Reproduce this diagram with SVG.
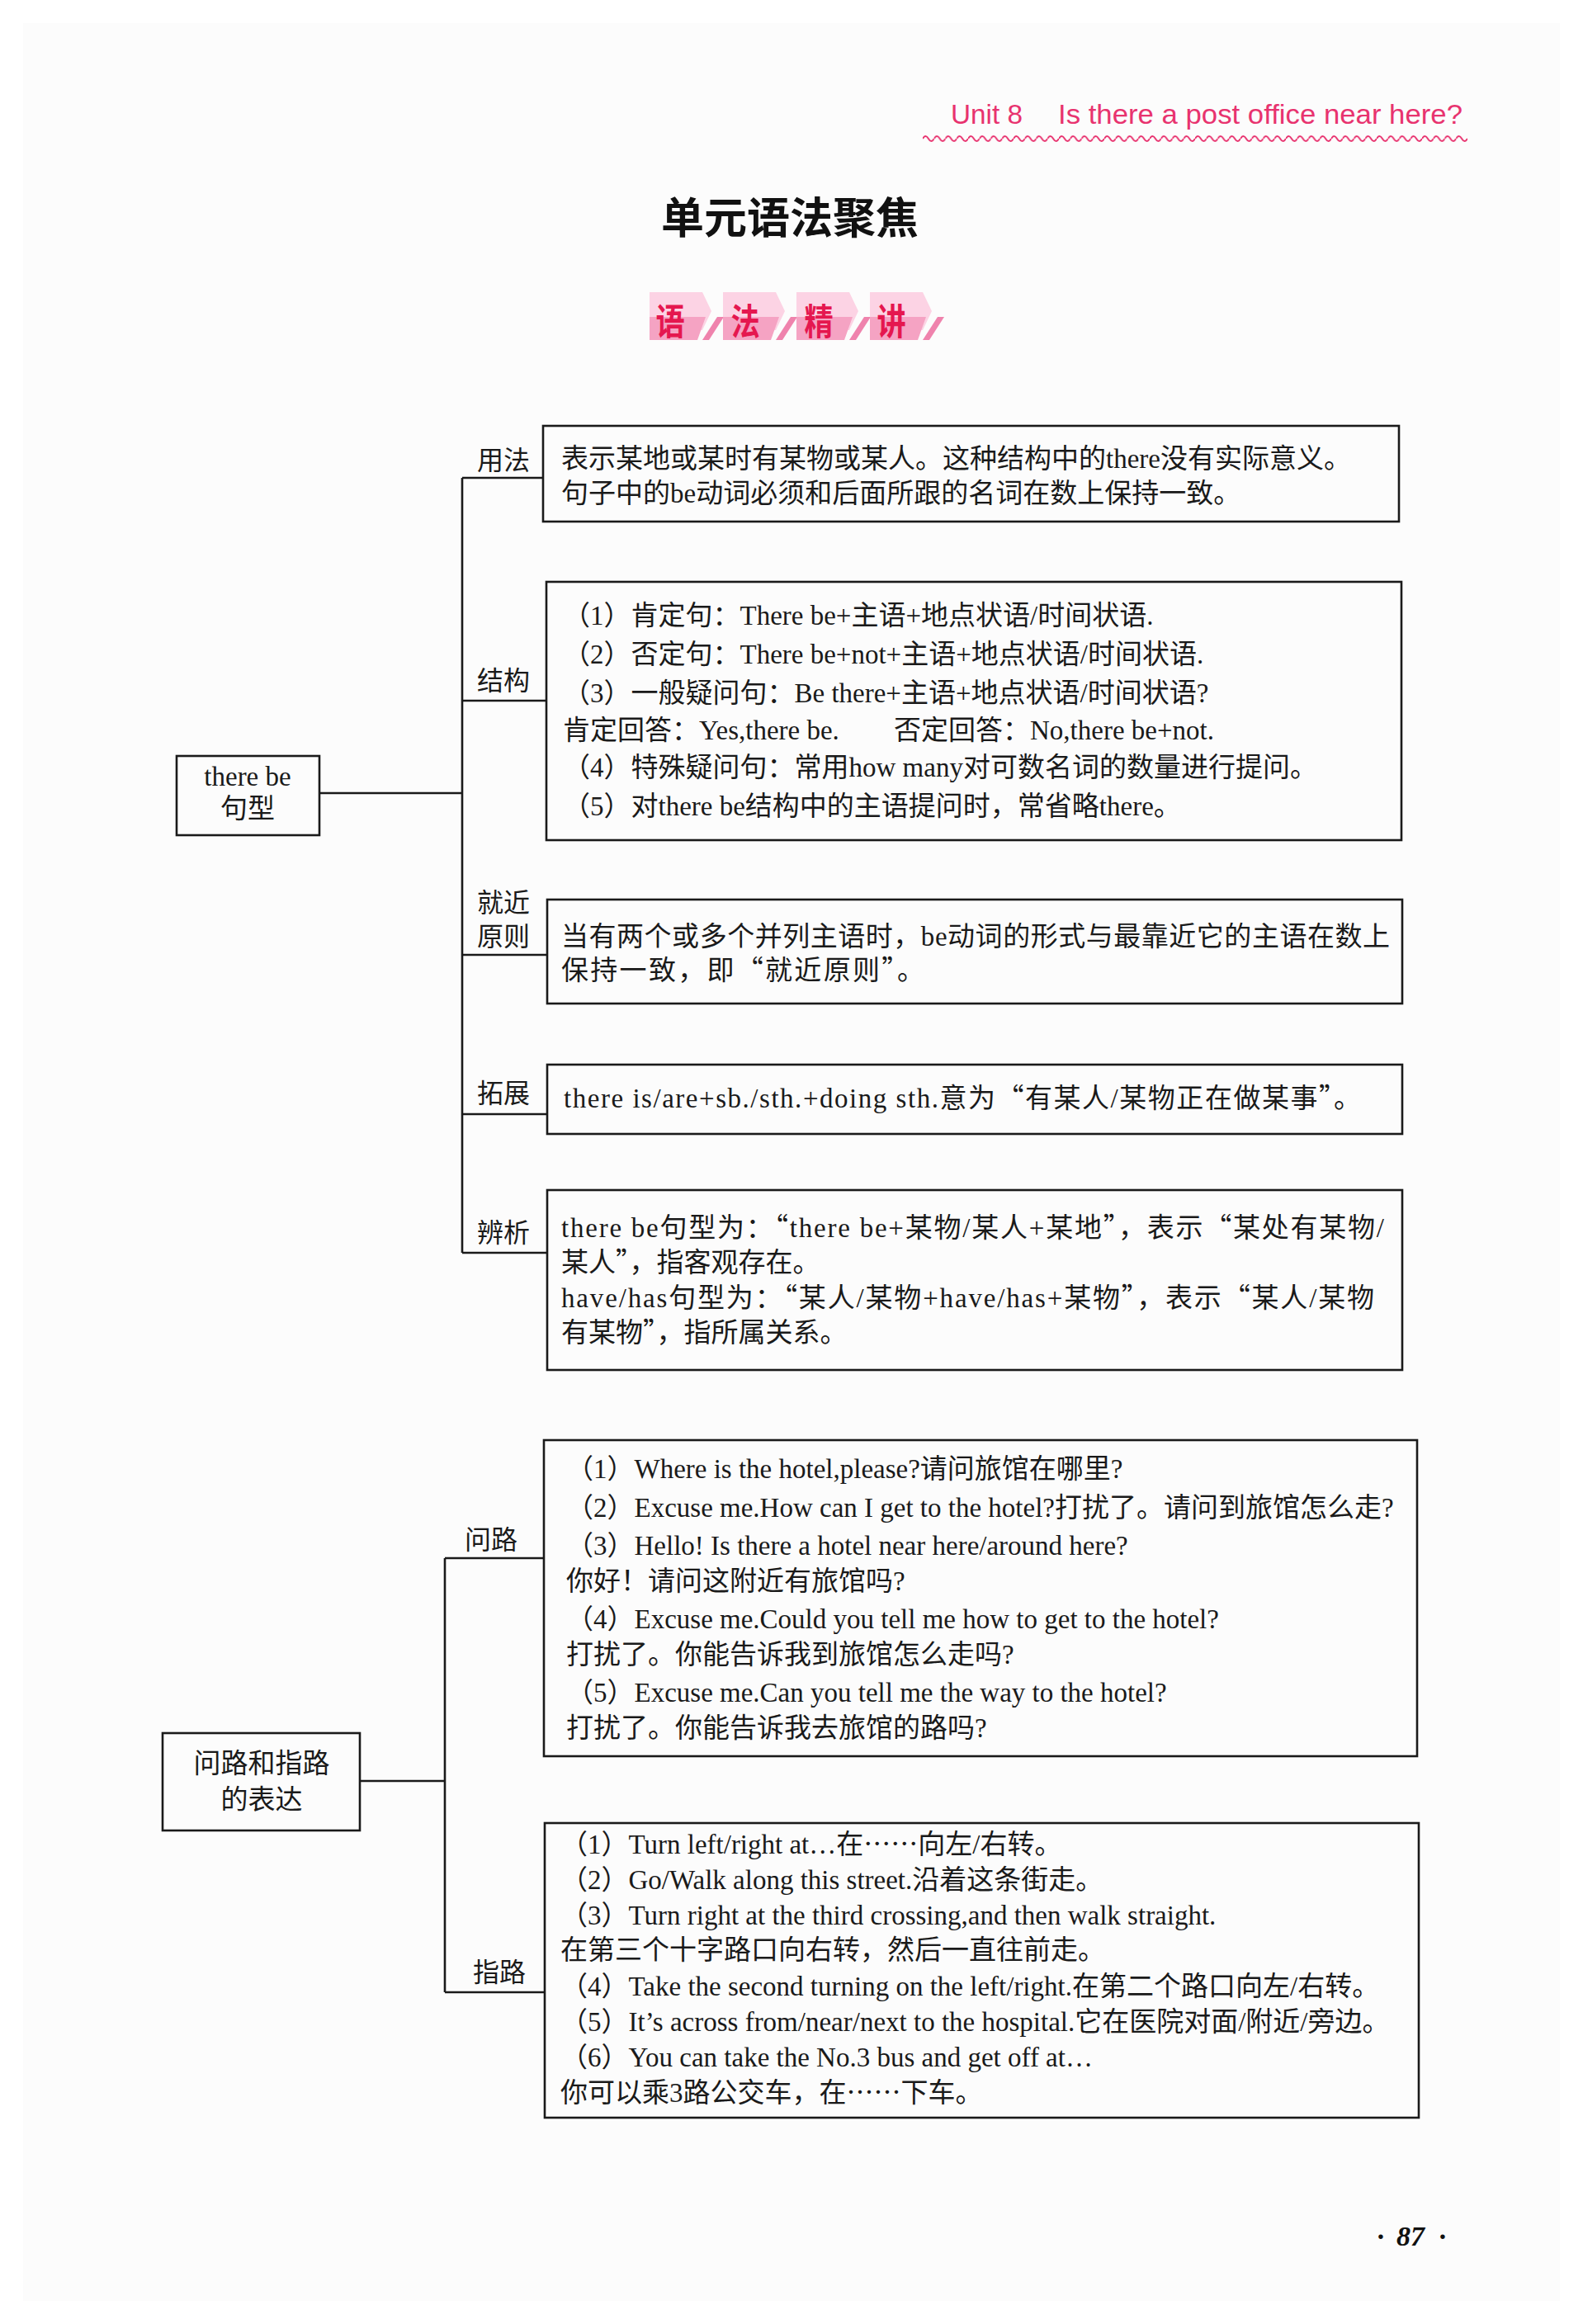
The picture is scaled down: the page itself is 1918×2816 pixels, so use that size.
<svg xmlns="http://www.w3.org/2000/svg" width="1918" height="2816" viewBox="0 0 1918 2816">
<defs>
<style>
.box{fill:none;stroke:#1a1a1a;stroke-width:2.6}
.conn{fill:none;stroke:#1a1a1a;stroke-width:2.6}
.t{font-family:"Liberation Serif","Noto Sans CJK SC",serif;font-size:33px;fill:#1a1a1a}
.lbl{font-family:"Liberation Serif","Noto Sans CJK SC",serif;font-size:32px;fill:#1a1a1a}
.zh{font-family:"Noto Sans CJK SC",sans-serif}
.hdr{font-family:"Liberation Sans","Noto Sans CJK SC",sans-serif;font-size:33px;fill:#e8336f}
.ban-l{fill:#fcd3e4}
.ban-d{fill:#f5a3c3}
.ban-s{fill:#ef83ad}
.ban-t{font-family:"Noto Sans CJK SC",sans-serif;font-weight:700;font-size:44px;fill:#e5174f}
</style>
<pattern id="wave" x="1118" y="159" width="13.75" height="18" patternUnits="userSpaceOnUse">
<path d="M0 9 Q3.44 3 6.875 9 T13.75 9" fill="none" stroke="#e8336f" stroke-width="2"/>
</pattern>
</defs>
<rect x="0" y="0" width="1918" height="2816" fill="#ffffff"/>
<rect x="28" y="28" width="1862" height="2760" fill="#fcfcfc"/>

<g id="header">
<text class="hdr" x="1152" y="150" textLength="87" lengthAdjust="spacingAndGlyphs">Unit 8</text>
<text class="hdr" x="1282" y="150" textLength="490" lengthAdjust="spacingAndGlyphs">Is there a post office near here?</text>
<rect x="1118" y="159" width="660" height="18" fill="url(#wave)"/>
</g>

<g id="title">
<text x="957" y="283" text-anchor="middle" font-family="'Noto Sans CJK SC',sans-serif" font-weight="700" font-size="52" fill="#111">单元语法聚焦</text>
</g>

<g id="banner">
<polygon class="ban-l" points="787,354 851,354 862,377 851,400 787,400"/>
<polygon class="ban-d" points="787,384 855,384 845,412 787,412"/>
<polygon class="ban-s" points="851,412 859,412 877,384 869,384"/>
<polygon class="ban-l" points="876,354 940,354 951,377 940,400 876,400"/>
<polygon class="ban-d" points="876,384 944,384 934,412 876,412"/>
<polygon class="ban-s" points="940,412 948,412 966,384 958,384"/>
<polygon class="ban-l" points="965,354 1029,354 1040,377 1029,400 965,400"/>
<polygon class="ban-d" points="965,384 1033,384 1023,412 965,412"/>
<polygon class="ban-s" points="1029,412 1037,412 1055,384 1047,384"/>
<polygon class="ban-l" points="1054,354 1118,354 1129,377 1118,400 1054,400"/>
<polygon class="ban-d" points="1054,384 1122,384 1112,412 1054,412"/>
<polygon class="ban-s" points="1118,412 1126,412 1144,384 1136,384"/>
<text class="ban-t" transform="translate(812,406) scale(0.8,1)" text-anchor="middle">语</text>
<text class="ban-t" transform="translate(903,406) scale(0.8,1)" text-anchor="middle">法</text>
<text class="ban-t" transform="translate(992,406) scale(0.8,1)" text-anchor="middle">精</text>
<text class="ban-t" transform="translate(1080,406) scale(0.8,1)" text-anchor="middle">讲</text>
</g>

<g id="connectors">
<path class="conn" d="M387 961 H560 M560 579 V1518 M560 579 H658 M560 849 H662 M560 1157 H663 M560 1350 H663 M560 1518 H663"/>
<path class="conn" d="M436 2158 H539 M539 1888 V2414 M539 1888 H659 M539 2414 H660"/>
<text class="lbl" x="578" y="569">用法</text>
<text class="lbl" x="578" y="836">结构</text>
<text class="lbl" x="578" y="1105">就近</text>
<text class="lbl" x="578" y="1146">原则</text>
<text class="lbl" x="578" y="1336">拓展</text>
<text class="lbl" x="578" y="1505">辨析</text>
<text class="lbl" x="563" y="1877">问路</text>
<text class="lbl" x="573" y="2401">指路</text>
</g>

<g id="n-therebe">
<rect class="box" x="214" y="916" width="173" height="96"/>
<text class="t" x="300" y="952" text-anchor="middle">there be</text>
<text class="t" x="300" y="991" text-anchor="middle" font-size="32">句型</text>
</g>

<g id="n-yongfa">
<rect class="box" x="658" y="516" width="1037" height="116"/>
<text class="t" x="680" y="567">表示某地或某时有某物或某人。这种结构中的there没有实际意义。</text>
<text class="t" x="680" y="609">句子中的be动词必须和后面所跟的名词在数上保持一致。</text>
</g>

<g id="n-jiegou">
<rect class="box" x="662" y="705" width="1036" height="313"/>
<text class="t" x="682" y="757">（1）肯定句：There be+主语+地点状语/时间状语.</text>
<text class="t" x="682" y="804">（2）否定句：There be+not+主语+地点状语/时间状语.</text>
<text class="t" x="682" y="851">（3）一般疑问句：Be there+主语+地点状语/时间状语?</text>
<text class="t" x="682" y="896">肯定回答：Yes,there be.<tspan x="1083">否定回答：No,there be+not.</tspan></text>
<text class="t" x="682" y="941">（4）特殊疑问句：常用how many对可数名词的数量进行提问。</text>
<text class="t" x="682" y="988">（5）对there be结构中的主语提问时，常省略there。</text>
</g>

<g id="n-jiujin">
<rect class="box" x="663" y="1090" width="1036" height="126"/>
<text class="t" x="680" y="1146" textLength="1004" lengthAdjust="spacing">当有两个或多个并列主语时，be动词的形式与最靠近它的主语在数上</text>
<text class="t" x="680" y="1187" textLength="440" lengthAdjust="spacing">保持一致，即<tspan class="zh">“</tspan>就近原则<tspan class="zh">”</tspan>。</text>
</g>

<g id="n-tuozhan">
<rect class="box" x="663" y="1290" width="1036" height="84"/>
<text class="t" x="683" y="1342" textLength="966" lengthAdjust="spacing">there is/are+sb./sth.+doing sth.意为<tspan class="zh">“</tspan>有某人/某物正在做某事<tspan class="zh">”</tspan>。</text>
</g>

<g id="n-bianxi">
<rect class="box" x="663" y="1442" width="1036" height="218"/>
<text class="t" x="680" y="1499" textLength="997" lengthAdjust="spacing">there be句型为：<tspan class="zh">“</tspan>there be+某物/某人+某地<tspan class="zh">”</tspan>，表示<tspan class="zh">“</tspan>某处有某物/</text>
<text class="t" x="680" y="1541">某人<tspan class="zh">”</tspan>，指客观存在。</text>
<text class="t" x="680" y="1584" textLength="985" lengthAdjust="spacing">have/has句型为：<tspan class="zh">“</tspan>某人/某物+have/has+某物<tspan class="zh">”</tspan>，表示<tspan class="zh">“</tspan>某人/某物</text>
<text class="t" x="680" y="1626">有某物<tspan class="zh">”</tspan>，指所属关系。</text>
</g>

<g id="n-wenzhi">
<rect class="box" x="197" y="2100" width="239" height="118"/>
<text class="t" x="317" y="2148" text-anchor="middle" font-size="34">问路和指路</text>
<text class="t" x="317" y="2192" text-anchor="middle" font-size="34">的表达</text>
</g>

<g id="n-wenlu">
<rect class="box" x="659" y="1745" width="1058" height="383"/>
<text class="t" x="686" y="1791">（1）Where is the hotel,please?请问旅馆在哪里?</text>
<text class="t" x="686" y="1838">（2）Excuse me.How can I get to the hotel?打扰了。请问到旅馆怎么走?</text>
<text class="t" x="686" y="1884">（3）Hello! Is there a hotel near here/around here?</text>
<text class="t" x="686" y="1927">你好！请问这附近有旅馆吗?</text>
<text class="t" x="686" y="1973">（4）Excuse me.Could you tell me how to get to the hotel?</text>
<text class="t" x="686" y="2016">打扰了。你能告诉我到旅馆怎么走吗?</text>
<text class="t" x="686" y="2062">（5）Excuse me.Can you tell me the way to the hotel?</text>
<text class="t" x="686" y="2105">打扰了。你能告诉我去旅馆的路吗?</text>
</g>

<g id="n-zhilu">
<rect class="box" x="660" y="2209" width="1059" height="357"/>
<text class="t" x="679" y="2246">（1）Turn left/right at…在<tspan class="zh">……</tspan>向左/右转。</text>
<text class="t" x="679" y="2289">（2）Go/Walk along this street.沿着这条街走。</text>
<text class="t" x="679" y="2332">（3）Turn right at the third crossing,and then walk straight.</text>
<text class="t" x="679" y="2374">在第三个十字路口向右转，然后一直往前走。</text>
<text class="t" x="679" y="2418">（4）Take the second turning on the left/right.在第二个路口向左/右转。</text>
<text class="t" x="679" y="2461">（5）It’s across from/near/next to the hospital.它在医院对面/附近/旁边。</text>
<text class="t" x="679" y="2504">（6）You can take the No.3 bus and get off at…</text>
<text class="t" x="679" y="2547">你可以乘3路公交车，在<tspan class="zh">……</tspan>下车。</text>
</g>

<g id="page-number">
<text x="1673" y="2721" text-anchor="middle" font-family="'Liberation Serif',serif" font-weight="700" font-size="34" fill="#111">·</text>
<text x="1692" y="2721" font-family="'Liberation Serif',serif" font-weight="700" font-style="italic" font-size="34" fill="#111">87</text>
<text x="1748" y="2721" text-anchor="middle" font-family="'Liberation Serif',serif" font-weight="700" font-size="34" fill="#111">·</text>
</g>
</svg>
